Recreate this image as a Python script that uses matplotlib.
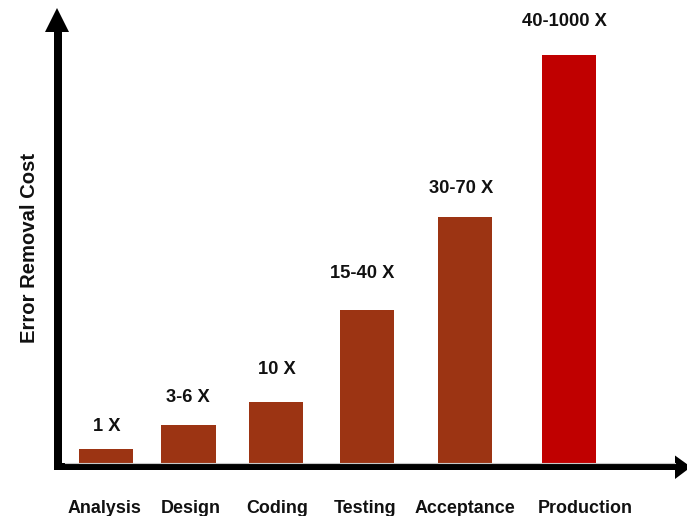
import matplotlib
matplotlib.use("Agg")
import matplotlib.pyplot as plt
from matplotlib.patches import Polygon, Rectangle

# ---- data ----
categories = ["Analysis", "Design", "Coding", "Testing", "Acceptance", "Production"]
cost_labels = ["1 X", "3-6 X", "10 X", "15-40 X", "30-70 X", "40-1000 X"]
heights = [3.4, 9.3, 15.0, 37.5, 60.2, 100.0]   # relative bar heights
y_label = "Error Removal Cost"

# ---- layout (units = 100 px) ----
bar_pos = [1.06, 1.885, 2.765, 3.675, 4.655, 5.69]
tick_pos = [1.045, 1.905, 2.77, 3.65, 4.65, 5.85]
label_dx = [1, -0.5, 0.5, -5.5, -4, -5]      # pixel offsets for value labels
label_dy = [23, 28, 32, 37, 29, 33]
bar_colors = ["#9C3413"] * 5 + ["#C00000"]

W, H = 687, 516
fig = plt.figure(figsize=(W / 100, H / 100), dpi=100)
font = dict(family="Liberation Sans", weight="bold")

base_px = 463
ax = fig.add_axes([0, (H - base_px) / H, 1, (base_px - 8) / H])
ax.set_xlim(0, W / 100)
ax.set_ylim(0, (base_px - 8) / 4.08)
ax.bar(bar_pos, heights, width=0.54, color=bar_colors, zorder=2)
for x, h, lab, dx, dy in zip(bar_pos, heights, cost_labels, label_dx, label_dy):
    ax.annotate(lab, (x, h), xytext=(dx, dy), textcoords="offset pixels",
                ha="center", va="center", fontsize=13.2, color="#111111", **font)
ax.set_xticks(tick_pos, categories, fontsize=12.9, **font)
ax.tick_params(axis="x", length=0, pad=26.5, colors="#111111")
ax.set_yticks([])
for s in ax.spines.values():
    s.set_visible(False)
ax.patch.set_alpha(0)

# overlay for the arrow axes
ov = fig.add_axes([0, 0, 1, 1], zorder=3)
ov.set_xlim(0, W)
ov.set_ylim(H, 0)
ov.axis("off")
ov.patch.set_alpha(0)
ov.plot([65, 675], [462.5, 462.5], color="#c8c8c8", lw=0.8)
ov.add_patch(Rectangle((54, 30), 8, 440, color="black", lw=0))
ov.add_patch(Polygon([(45, 32), (69, 32), (57, 8)], closed=True, color="black", lw=0))
ov.add_patch(Rectangle((54, 463), 623, 7, color="black", lw=0))
ov.add_patch(Polygon([(675, 455.5), (675, 479), (691, 467)], closed=True, color="black", lw=0))

fig.text(30 / W, 1 - 247.5 / H, y_label, rotation=90, ha="center", va="center",
         fontsize=14.6, color="#111111", **font)

fig.savefig("out.png", dpi=100)
